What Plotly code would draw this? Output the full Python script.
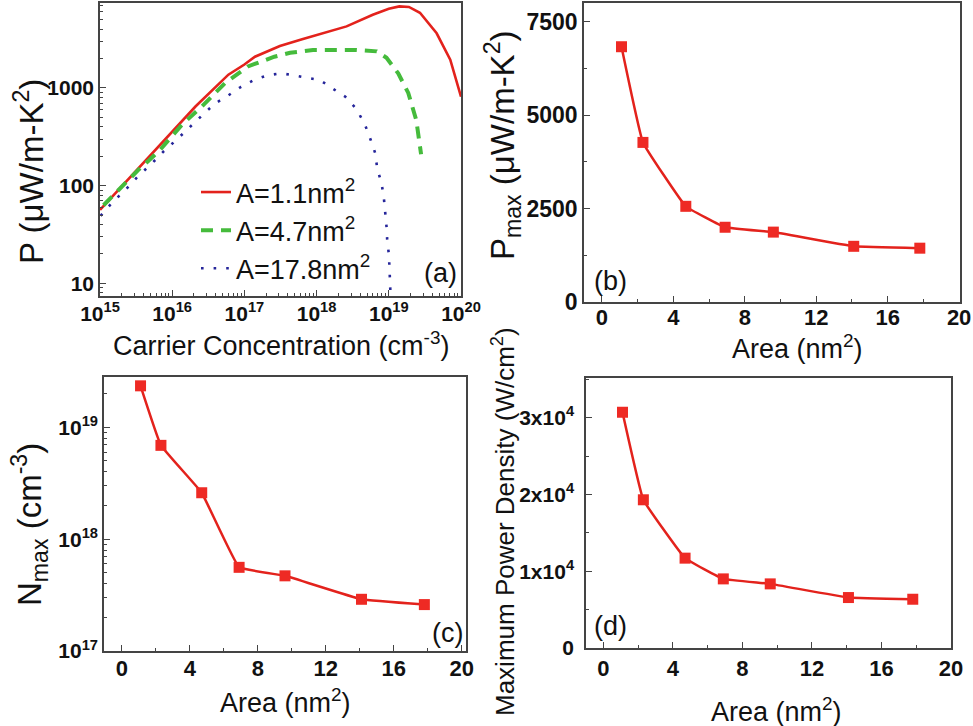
import plotly.graph_objects as go

# ---------------- data ----------------
# panel (a): power factor vs carrier concentration
n_a11 = [1.0e15, 2.45e15, 7.1e15, 2.1e16, 6.0e16, 1.0e17, 1.4e17, 3.1e17, 6.3e17, 1.26e18, 2.6e18,
         6.0e18, 1.0e19, 1.4e19, 1.9e19, 2.7e19, 4.6e19, 7.1e19, 1.0e20]
p_a11 = [56.5, 115, 273, 646, 1368, 1740, 2089, 2690, 3160, 3630, 4270,
         5620, 6460, 6840, 6760, 5890, 3630, 1950, 813]

n_a47 = [1.12e15, 3.4e15, 6.5e15, 1.35e16, 2.57e16, 5.4e16, 1.12e17, 2.6e17, 4.3e17, 8.9e17, 3.5e18,
         6.8e18, 9.3e18, 1.35e19, 1.86e19, 2.4e19, 2.8e19]
p_a47 = [63, 145, 224, 417, 646, 1122, 1660, 2090, 2290, 2450, 2450,
         2370, 2040, 1410, 890, 470, 210]

n_a178 = [1.02e15, 1.5e15, 2.2e15, 3.3e15, 5.1e15, 7.6e15, 1.15e16, 1.74e16, 2.6e16, 3.9e16, 5.9e16,
          8.9e16, 1.38e17, 2.1e17, 3.2e17, 4.8e17, 7.1e17, 1.12e18, 1.62e18, 2.5e18, 3.6e18, 4.7e18,
          5.6e18, 6.5e18, 6.9e18, 7.9e18, 8.5e18, 8.9e18, 9.3e18, 9.5e18, 1.0e19, 1.02e19, 1.05e19, 1.06e19]
p_a178 = [49, 68, 89, 123, 166, 224, 295, 398, 525, 692, 832,
          1023, 1216, 1349, 1413, 1349, 1288, 1202, 1000, 813, 603, 417,
          295, 214, 151, 107, 78, 55, 38, 28, 20, 15, 10.5, 7]

legend_names = ["A=1.1nm<sup>2</sup>", "A=4.7nm<sup>2</sup>", "A=17.8nm<sup>2</sup>"]

# panels (b)-(d): vs cross-section area
area = [1.1, 2.3, 4.7, 6.9, 9.6, 14.1, 17.8]
p_max = [6830, 4270, 2560, 2000, 1870, 1490, 1440]
n_max = [2.35e19, 6.9e18, 2.6e18, 5.6e17, 4.7e17, 2.9e17, 2.6e17]
power_density = [30700, 19300, 11700, 9000, 8350, 6570, 6350]

# tick labels
a_xticks = [1e15, 1e16, 1e17, 1e18, 1e19, 1e20]
a_xtext = ["10<sup>15</sup>", "10<sup>16</sup>", "10<sup>17</sup>", "10<sup>18</sup>", "10<sup>19</sup>", "10<sup>20</sup>"]
a_yticks = [10, 100, 1000]
a_ytext = ["10", "100", "1000"]
area_ticks = [0, 4, 8, 12, 16, 20]
area_text = ["0", "4", "8", "12", "16", "20"]
b_yticks = [0, 2500, 5000, 7500]
b_ytext = ["0", "2500", "5000", "7500"]
c_yticks = [1e17, 1e18, 1e19]
c_ytext = ["10<sup>17</sup>", "10<sup>18</sup>", "10<sup>19</sup>"]
d_yticks = [0, 10000, 20000, 30000]
d_ytext = ["0", "1x10<sup>4</sup>", "2x10<sup>4</sup>", "3x10<sup>4</sup>"]

# ---------------- style ----------------
W, H = 973, 726
FONT = "Liberation Sans, Arial, sans-serif"
RED = "#e3221c"
MRED = "#ee2a24"
GREEN = "#45bb3c"
BLUE = "#25259a"
AXC = "#444444"


def px_x(p):
    return p / W


def px_y(p):
    return 1 - p / H


fig = go.Figure()

# panel (a)
fig.add_trace(go.Scatter(x=n_a11, y=p_a11, mode="lines", name=legend_names[0],
                         line=dict(color=RED, width=2.6), xaxis="x", yaxis="y"))
fig.add_trace(go.Scatter(x=n_a47, y=p_a47, mode="lines", name=legend_names[1],
                         line=dict(color=GREEN, width=4, dash="12px,8px"), xaxis="x", yaxis="y"))
fig.add_trace(go.Scatter(x=n_a178, y=p_a178, mode="lines", name=legend_names[2],
                         line=dict(color=BLUE, width=2.6, dash="2.6px,10px"), xaxis="x", yaxis="y"))

common_marker = dict(symbol="square", size=11, color=MRED)
common_line = dict(color=RED, width=2.5, shape="spline", smoothing=0.25)
fig.add_trace(go.Scatter(x=area, y=p_max, mode="lines+markers", marker=common_marker,
                         line=common_line, showlegend=False, xaxis="x2", yaxis="y2"))
fig.add_trace(go.Scatter(x=area, y=n_max, mode="lines+markers", marker=common_marker,
                         line=common_line, showlegend=False, xaxis="x3", yaxis="y3"))
fig.add_trace(go.Scatter(x=area, y=power_density, mode="lines+markers", marker=common_marker,
                         line=common_line, showlegend=False, xaxis="x4", yaxis="y4"))


def axis(domain, anchor, rng, tickvals, ticktext, typ="linear", minor=None, fsize=20, standoff=0):
    d = dict(domain=domain, anchor=anchor, range=rng, type=typ, automargin=False,
             tickmode="array", tickvals=tickvals, ticktext=ticktext,
             ticks="inside", ticklen=6, tickwidth=1.2, tickcolor=AXC,
             showline=True, linecolor=AXC, linewidth=1.5, mirror=True,
             showgrid=False, zeroline=False, ticklabelstandoff=standoff,
             tickfont=dict(family=FONT, size=fsize, color="#111111", weight="bold"))
    if minor is not None:
        d["minor"] = minor
    return d


log_minor = dict(ticks="inside", ticklen=3, tickwidth=1, tickcolor=AXC, showgrid=False, dtick="D1")

dom_a_x = [px_x(100), px_x(461)]
dom_a_y = [px_y(296), px_y(3)]
dom_b_x = [px_x(584), px_x(960)]
dom_b_y = [px_y(302), px_y(3)]
dom_c_x = [px_x(104), px_x(466)]
dom_c_y = [px_y(651), px_y(377)]
dom_d_x = [px_x(586), px_x(951)]
dom_d_y = [px_y(648), px_y(378)]

fig.update_layout(
    xaxis=axis(dom_a_x, "y", [15, 20], a_xticks, a_xtext, "log", log_minor, 21, -2),
    yaxis=axis(dom_a_y, "x", [0.87, 3.87], a_yticks, a_ytext, "log", log_minor, 21),
    xaxis2=axis(dom_b_x, "y2", [-1, 20.05], area_ticks, area_text,
                minor=dict(ticks="inside", ticklen=3, dtick=2, tickcolor=AXC, showgrid=False), fsize=22,
                standoff=-5),
    yaxis2=axis(dom_b_y, "x2", [0, 8000], b_yticks, b_ytext,
                minor=dict(ticks="inside", ticklen=3, dtick=1250, tickcolor=AXC, showgrid=False), fsize=23),
    xaxis3=axis(dom_c_x, "y3", [-1.05, 20.25], area_ticks, area_text,
                minor=dict(ticks="inside", ticklen=3, dtick=2, tickcolor=AXC, showgrid=False), fsize=22,
                standoff=-3),
    yaxis3=axis(dom_c_y, "x3", [17, 19.45], c_yticks, c_ytext, "log", log_minor, 21),
    xaxis4=axis(dom_d_x, "y4", [-1, 20], area_ticks, area_text,
                minor=dict(ticks="inside", ticklen=3, dtick=2, tickcolor=AXC, showgrid=False), fsize=22),
    yaxis4=axis(dom_d_y, "x4", [0, 35160], d_yticks, d_ytext,
                minor=dict(ticks="inside", ticklen=3, dtick=5000, tickcolor=AXC, showgrid=False), fsize=21,
                standoff=6),
)

annots = []


def ann(text, x, y, angle=0, size=27):
    annots.append(dict(text=text, x=px_x(x), y=px_y(y), xref="paper", yref="paper",
                       showarrow=False, textangle=angle, xanchor="center", yanchor="middle",
                       font=dict(family=FONT, size=size, color="#111111")))


ann("Carrier Concentration (cm<sup>-3</sup>)", 281, 344)
ann("P (\u03bcW/m-K<sup>2</sup>)", 29, 172, -90, 33)
ann("Area (nm<sup>2</sup>)", 797, 347)
ann("P<sub>max</sub> (\u03bcW/m-K<sup>2</sup>)", 502, 146, -90, 33)
ann("Area (nm<sup>2</sup>)", 285, 701)
ann("N<sub>max</sub> (cm<sup>-3</sup>)", 29, 525, -90, 33)
ann("Area (nm<sup>2</sup>)", 776, 710)
ann("Maximum Power Density (W/cm<sup>2</sup>)", 503, 522, -90, 26)
ann("(a)", 440, 273)
ann("(b)", 610, 281)
ann("(c)", 447, 633)
ann("(d)", 610, 626)

fig.update_layout(
    annotations=annots,
    width=W, height=H,
    margin=dict(l=0, r=0, t=0, b=0, autoexpand=False),
    paper_bgcolor="white", plot_bgcolor="white",
    font=dict(family=FONT, color="#111111"),
    showlegend=True,
    legend=dict(x=px_x(196), y=px_y(168), xanchor="left", yanchor="top",
                bgcolor="rgba(0,0,0,0)", font=dict(family=FONT, size=27, color="#111111"),
                tracegroupgap=0, itemwidth=30),
)

fig.write_html("out.html")
